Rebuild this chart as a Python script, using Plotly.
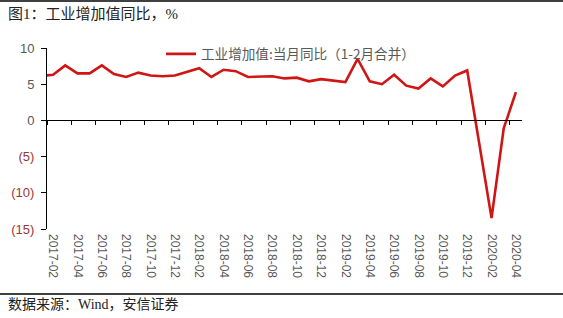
import plotly.graph_objects as go

# ---- data ----
months = ["2016-12",
          "2017-02", "2017-03", "2017-04", "2017-05", "2017-06", "2017-07", "2017-08",
          "2017-09", "2017-10", "2017-11", "2017-12",
          "2018-02", "2018-03", "2018-04", "2018-05", "2018-06", "2018-07", "2018-08",
          "2018-09", "2018-10", "2018-11", "2018-12",
          "2019-02", "2019-03", "2019-04", "2019-05", "2019-06", "2019-07", "2019-08",
          "2019-09", "2019-10", "2019-11", "2019-12",
          "2020-02", "2020-03", "2020-04"]
values = [6.0,
          6.3, 7.6, 6.5, 6.5, 7.6, 6.4, 6.0, 6.6, 6.2, 6.1, 6.2,
          7.2, 6.0, 7.0, 6.8, 6.0, 6.0, 6.1, 5.8, 5.9, 5.4, 5.7,
          5.3, 8.5, 5.4, 5.0, 6.3, 4.8, 4.4, 5.8, 4.7, 6.2, 6.9,
          -13.5, -1.1, 3.9]
tick_labels = ["2017-02", "2017-04", "2017-06", "2017-08", "2017-10", "2017-12",
               "2018-02", "2018-04", "2018-06", "2018-08", "2018-10", "2018-12",
               "2019-02", "2019-04", "2019-06", "2019-08", "2019-10", "2019-12",
               "2020-02", "2020-04"]
y_ticks = [10, 5, 0, -5, -10, -15]
series_name = "工业增加值:当月同比（1-2月合并）"
title_text = "图1：工业增加值同比，%"
source_text = "数据来源：Wind，安信证券"


def month_index(m):
    y, mo = m.split("-")
    return (int(y) - 2017) * 12 + int(mo) - 2


x = [month_index(m) for m in months]
tick_pos = [month_index(t) for t in tick_labels]
boundary_ticks = [p - 0.5 for p in tick_pos]
x_range = [tick_pos[0] - 0.5, tick_pos[-1] + 0.5]

GRAY = "#595959"
NEG = "#953735"
RED = "#D01515"


def fmt(v):
    if v < 0:
        return f"<span style='color:{NEG}'>({abs(v)})</span>"
    return str(v)


y_text = [fmt(v) for v in y_ticks]

fig = go.Figure()
fig.add_trace(go.Scatter(x=x, y=values, mode="lines", name=series_name,
                         line=dict(color=RED, width=2.6), hoverinfo="skip"))
fig.add_trace(go.Scatter(x=[None], y=[None], xaxis="x2", yaxis="y",
                         showlegend=False, hoverinfo="skip"))

W, H = 563, 318
ml, mr, mt, mb = 47, 41, 48, 89
pw, ph = W - ml - mr, H - mt - mb


def px(xp):
    return (xp - ml) / pw


def py(yp):
    return (H - mb - yp) / ph


fig.update_layout(
    width=W, height=H,
    margin=dict(l=ml, r=mr, t=mt, b=mb, pad=0),
    paper_bgcolor="white", plot_bgcolor="white",
    font=dict(family="Liberation Sans, Noto Sans CJK SC", color=GRAY, size=12),
    showlegend=True,
    legend=dict(orientation="h", x=px(161), y=py(54), xanchor="left", yanchor="middle",
                bgcolor="rgba(0,0,0,0)", font=dict(size=13.6, color=GRAY,
                family="Noto Sans CJK SC"),
                itemwidth=30, tracegroupgap=0),
    xaxis=dict(range=x_range, tickvals=tick_pos, ticktext=tick_labels, tickangle=90,
               showline=False, ticks="", showgrid=False, zeroline=False,
               tickfont=dict(size=12, color=GRAY), ticklabelstandoff=4),
    xaxis2=dict(overlaying="x", anchor="free", position=(0 - y_ticks[-1]) / (y_ticks[0] - y_ticks[-1]),
                range=x_range, showline=True, linecolor="black", linewidth=1,
                ticks="outside", ticklen=4, tickcolor="black", tickwidth=1,
                tickvals=boundary_ticks, showticklabels=False, showgrid=False,
                zeroline=False, side="bottom"),
    yaxis=dict(range=[y_ticks[-1], y_ticks[0]], tickvals=y_ticks, ticktext=y_text,
               showline=True, linecolor="black", linewidth=1, ticks="outside",
               ticklen=5, tickcolor="black", showgrid=False, zeroline=False,
               tickfont=dict(size=13, color=GRAY), ticklabelstandoff=4),
    shapes=[
        dict(type="line", xref="paper", yref="paper", x0=px(0), x1=px(W), y0=py(1), y1=py(1),
             line=dict(color="black", width=1.5)),
        dict(type="line", xref="paper", yref="paper", x0=px(0), x1=px(W), y0=py(294), y1=py(294),
             line=dict(color="black", width=1.5)),
    ],
    annotations=[
        dict(text=title_text, xref="paper", yref="paper", x=px(6), y=py(14),
             xanchor="left", yanchor="middle", showarrow=False,
             font=dict(size=15, color="#222222", family="Liberation Serif, Noto Sans CJK SC")),
        dict(text=source_text, xref="paper", yref="paper", x=px(6), y=py(304),
             xanchor="left", yanchor="middle", showarrow=False,
             font=dict(size=14, color="#222222", family="Liberation Serif, Noto Sans CJK SC")),
    ],
)

fig.write_html("out.html")
